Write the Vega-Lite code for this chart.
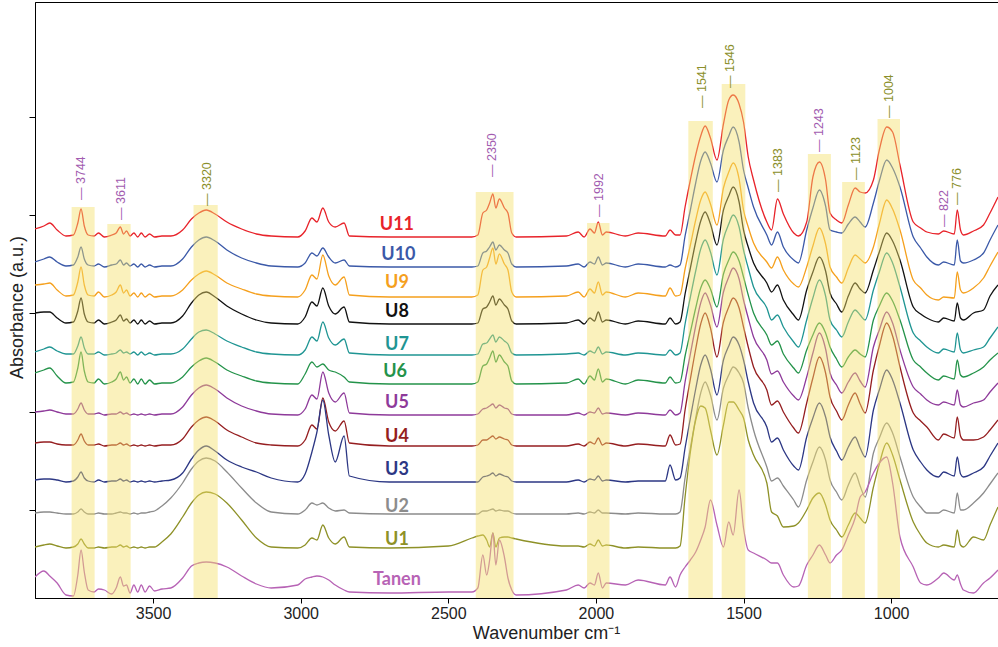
{
"$schema":"https://vega.github.io/schema/vega-lite/v6.json",
"width":963,"height":596,"autosize":"none",
"padding":{"left":35,"top":2,"right":0,"bottom":49},
"background":"white",
"config":{"view":{"stroke":"#000","strokeWidth":1},"font":"Liberation Sans"},
"datasets":{
"spec":[
{"s":"U11","w":3900,"a":3.69},{"s":"U11","w":3870,"a":3.72},{"s":"U11","w":3850,"a":3.75},{"s":"U11","w":3825,"a":3.68},{"s":"U11","w":3795,"a":3.62},{"s":"U11","w":3770,"a":3.63},{"s":"U11","w":3755,"a":3.75},{"s":"U11","w":3744,"a":3.89},{"s":"U11","w":3733,"a":3.72},{"s":"U11","w":3720,"a":3.63},{"s":"U11","w":3700,"a":3.62},{"s":"U11","w":3685,"a":3.65},{"s":"U11","w":3665,"a":3.61},{"s":"U11","w":3640,"a":3.63},{"s":"U11","w":3625,"a":3.65},{"s":"U11","w":3611,"a":3.71},{"s":"U11","w":3600,"a":3.64},{"s":"U11","w":3590,"a":3.67},{"s":"U11","w":3578,"a":3.62},{"s":"U11","w":3565,"a":3.65},{"s":"U11","w":3552,"a":3.61},{"s":"U11","w":3540,"a":3.65},{"s":"U11","w":3527,"a":3.61},{"s":"U11","w":3512,"a":3.64},{"s":"U11","w":3495,"a":3.61},{"s":"U11","w":3470,"a":3.62},{"s":"U11","w":3440,"a":3.62},{"s":"U11","w":3400,"a":3.68},{"s":"U11","w":3370,"a":3.79},{"s":"U11","w":3345,"a":3.85},{"s":"U11","w":3320,"a":3.88},{"s":"U11","w":3290,"a":3.84},{"s":"U11","w":3250,"a":3.76},{"s":"U11","w":3200,"a":3.69},{"s":"U11","w":3150,"a":3.64},{"s":"U11","w":3100,"a":3.62},{"s":"U11","w":3010,"a":3.61},{"s":"U11","w":2985,"a":3.67},{"s":"U11","w":2962,"a":3.80},{"s":"U11","w":2945,"a":3.76},{"s":"U11","w":2925,"a":3.90},{"s":"U11","w":2905,"a":3.76},{"s":"U11","w":2883,"a":3.71},{"s":"U11","w":2853,"a":3.75},{"s":"U11","w":2835,"a":3.62},{"s":"U11","w":2700,"a":3.61},{"s":"U11","w":2500,"a":3.61},{"s":"U11","w":2420,"a":3.61},{"s":"U11","w":2400,"a":3.63},{"s":"U11","w":2383,"a":3.85},{"s":"U11","w":2370,"a":3.88},{"s":"U11","w":2360,"a":3.95},{"s":"U11","w":2349,"a":4.04},{"s":"U11","w":2339,"a":3.90},{"s":"U11","w":2327,"a":3.99},{"s":"U11","w":2310,"a":3.90},{"s":"U11","w":2298,"a":3.85},{"s":"U11","w":2285,"a":3.65},{"s":"U11","w":2270,"a":3.61},{"s":"U11","w":2100,"a":3.62},{"s":"U11","w":2060,"a":3.66},{"s":"U11","w":2040,"a":3.61},{"s":"U11","w":2020,"a":3.69},{"s":"U11","w":2005,"a":3.65},{"s":"U11","w":1992,"a":3.76},{"s":"U11","w":1978,"a":3.63},{"s":"U11","w":1965,"a":3.66},{"s":"U11","w":1900,"a":3.62},{"s":"U11","w":1857,"a":3.65},{"s":"U11","w":1765,"a":3.62},{"s":"U11","w":1749,"a":3.68},{"s":"U11","w":1730,"a":3.63},
{"s":"U11","w":1715,"a":3.63},{"s":"U11","w":1698,"a":3.91},{"s":"U11","w":1680,"a":4.18},{"s":"U11","w":1662,"a":4.43},{"s":"U11","w":1645,"a":4.62},{"s":"U11","w":1630,"a":4.72},{"s":"U11","w":1612,"a":4.60},{"s":"U11","w":1590,"a":4.38},{"s":"U11","w":1568,"a":4.74},{"s":"U11","w":1550,"a":4.98},{"s":"U11","w":1535,"a":5.03},{"s":"U11","w":1515,"a":4.94},{"s":"U11","w":1500,"a":4.76},{"s":"U11","w":1484,"a":4.41},{"s":"U11","w":1466,"a":4.18},{"s":"U11","w":1421,"a":3.76},{"s":"U11","w":1405,"a":3.68},{"s":"U11","w":1385,"a":3.99},{"s":"U11","w":1365,"a":3.84},{"s":"U11","w":1330,"a":3.65},{"s":"U11","w":1314,"a":3.62},{"s":"U11","w":1286,"a":3.76},{"s":"U11","w":1265,"a":4.21},{"s":"U11","w":1243,"a":4.36},{"s":"U11","w":1222,"a":4.18},{"s":"U11","w":1207,"a":3.85},{"s":"U11","w":1185,"a":3.78},{"s":"U11","w":1167,"a":3.75},{"s":"U11","w":1145,"a":3.93},{"s":"U11","w":1122,"a":4.10},{"s":"U11","w":1105,"a":4.06},{"s":"U11","w":1088,"a":4.05},{"s":"U11","w":1060,"a":4.18},{"s":"U11","w":1040,"a":4.48},{"s":"U11","w":1015,"a":4.71},{"s":"U11","w":995,"a":4.66},{"s":"U11","w":970,"a":4.33},{"s":"U11","w":925,"a":3.76},{"s":"U11","w":900,"a":3.70},{"s":"U11","w":879,"a":3.66},{"s":"U11","w":840,"a":3.64},{"s":"U11","w":822,"a":3.67},{"s":"U11","w":786,"a":3.64},{"s":"U11","w":776,"a":3.88},{"s":"U11","w":765,"a":3.68},{"s":"U11","w":755,"a":3.63},{"s":"U11","w":721,"a":3.67},{"s":"U11","w":687,"a":3.73},{"s":"U11","w":665,"a":3.85},{"s":"U11","w":638,"a":4.01},
{"s":"U10","w":3900,"a":3.36},{"s":"U10","w":3870,"a":3.39},{"s":"U10","w":3850,"a":3.41},{"s":"U10","w":3825,"a":3.36},{"s":"U10","w":3795,"a":3.32},{"s":"U10","w":3770,"a":3.33},{"s":"U10","w":3755,"a":3.41},{"s":"U10","w":3744,"a":3.51},{"s":"U10","w":3733,"a":3.39},{"s":"U10","w":3720,"a":3.33},{"s":"U10","w":3700,"a":3.32},{"s":"U10","w":3685,"a":3.34},{"s":"U10","w":3665,"a":3.31},{"s":"U10","w":3640,"a":3.33},{"s":"U10","w":3625,"a":3.34},{"s":"U10","w":3611,"a":3.38},{"s":"U10","w":3600,"a":3.33},{"s":"U10","w":3590,"a":3.35},{"s":"U10","w":3578,"a":3.32},{"s":"U10","w":3565,"a":3.34},{"s":"U10","w":3552,"a":3.31},{"s":"U10","w":3540,"a":3.34},{"s":"U10","w":3527,"a":3.31},{"s":"U10","w":3512,"a":3.33},{"s":"U10","w":3495,"a":3.31},{"s":"U10","w":3470,"a":3.32},{"s":"U10","w":3440,"a":3.32},{"s":"U10","w":3400,"a":3.39},{"s":"U10","w":3370,"a":3.51},{"s":"U10","w":3345,"a":3.58},{"s":"U10","w":3320,"a":3.61},{"s":"U10","w":3290,"a":3.57},{"s":"U10","w":3250,"a":3.48},{"s":"U10","w":3200,"a":3.40},{"s":"U10","w":3150,"a":3.35},{"s":"U10","w":3100,"a":3.32},{"s":"U10","w":3010,"a":3.31},{"s":"U10","w":2985,"a":3.35},{"s":"U10","w":2962,"a":3.45},{"s":"U10","w":2945,"a":3.42},{"s":"U10","w":2925,"a":3.50},{"s":"U10","w":2905,"a":3.41},{"s":"U10","w":2883,"a":3.35},{"s":"U10","w":2853,"a":3.38},{"s":"U10","w":2835,"a":3.32},{"s":"U10","w":2700,"a":3.31},{"s":"U10","w":2500,"a":3.31},{"s":"U10","w":2420,"a":3.31},{"s":"U10","w":2400,"a":3.32},{"s":"U10","w":2383,"a":3.45},{"s":"U10","w":2370,"a":3.47},{"s":"U10","w":2360,"a":3.51},{"s":"U10","w":2349,"a":3.56},{"s":"U10","w":2339,"a":3.48},{"s":"U10","w":2327,"a":3.53},{"s":"U10","w":2310,"a":3.48},{"s":"U10","w":2298,"a":3.45},{"s":"U10","w":2285,"a":3.34},{"s":"U10","w":2270,"a":3.31},{"s":"U10","w":2100,"a":3.32},{"s":"U10","w":2060,"a":3.34},{"s":"U10","w":2040,"a":3.31},{"s":"U10","w":2020,"a":3.36},{"s":"U10","w":2005,"a":3.34},{"s":"U10","w":1992,"a":3.41},{"s":"U10","w":1978,"a":3.33},{"s":"U10","w":1965,"a":3.35},{"s":"U10","w":1900,"a":3.31},{"s":"U10","w":1857,"a":3.34},{"s":"U10","w":1765,"a":3.31},{"s":"U10","w":1749,"a":3.33},{"s":"U10","w":1730,"a":3.31},
{"s":"U10","w":1715,"a":3.33},{"s":"U10","w":1698,"a":3.62},{"s":"U10","w":1680,"a":3.88},{"s":"U10","w":1662,"a":4.15},{"s":"U10","w":1645,"a":4.37},{"s":"U10","w":1630,"a":4.46},{"s":"U10","w":1612,"a":4.35},{"s":"U10","w":1590,"a":4.16},{"s":"U10","w":1568,"a":4.48},{"s":"U10","w":1550,"a":4.62},{"s":"U10","w":1535,"a":4.71},{"s":"U10","w":1515,"a":4.56},{"s":"U10","w":1500,"a":4.28},{"s":"U10","w":1484,"a":4.10},{"s":"U10","w":1466,"a":3.91},{"s":"U10","w":1421,"a":3.63},{"s":"U10","w":1405,"a":3.53},{"s":"U10","w":1385,"a":3.66},{"s":"U10","w":1365,"a":3.51},{"s":"U10","w":1330,"a":3.38},{"s":"U10","w":1314,"a":3.35},{"s":"U10","w":1286,"a":3.68},{"s":"U10","w":1265,"a":3.90},{"s":"U10","w":1243,"a":4.08},{"s":"U10","w":1222,"a":3.92},{"s":"U10","w":1207,"a":3.68},{"s":"U10","w":1185,"a":3.66},{"s":"U10","w":1167,"a":3.65},{"s":"U10","w":1145,"a":3.74},{"s":"U10","w":1122,"a":3.81},{"s":"U10","w":1105,"a":3.76},{"s":"U10","w":1088,"a":3.71},{"s":"U10","w":1060,"a":3.95},{"s":"U10","w":1040,"a":4.17},{"s":"U10","w":1015,"a":4.38},{"s":"U10","w":995,"a":4.30},{"s":"U10","w":970,"a":4.11},{"s":"U10","w":925,"a":3.61},{"s":"U10","w":900,"a":3.50},{"s":"U10","w":879,"a":3.41},{"s":"U10","w":840,"a":3.33},{"s":"U10","w":822,"a":3.36},{"s":"U10","w":786,"a":3.33},{"s":"U10","w":776,"a":3.58},{"s":"U10","w":765,"a":3.37},{"s":"U10","w":755,"a":3.35},{"s":"U10","w":721,"a":3.38},{"s":"U10","w":687,"a":3.45},{"s":"U10","w":665,"a":3.58},{"s":"U10","w":638,"a":3.73},
{"s":"U9","w":3900,"a":3.13},{"s":"U9","w":3870,"a":3.14},{"s":"U9","w":3850,"a":3.15},{"s":"U9","w":3825,"a":3.08},{"s":"U9","w":3795,"a":3.02},{"s":"U9","w":3770,"a":3.03},{"s":"U9","w":3755,"a":3.16},{"s":"U9","w":3744,"a":3.31},{"s":"U9","w":3733,"a":3.13},{"s":"U9","w":3720,"a":3.03},{"s":"U9","w":3700,"a":3.02},{"s":"U9","w":3685,"a":3.06},{"s":"U9","w":3665,"a":3.01},{"s":"U9","w":3640,"a":3.03},{"s":"U9","w":3625,"a":3.06},{"s":"U9","w":3611,"a":3.13},{"s":"U9","w":3600,"a":3.05},{"s":"U9","w":3590,"a":3.08},{"s":"U9","w":3578,"a":3.02},{"s":"U9","w":3565,"a":3.05},{"s":"U9","w":3552,"a":3.01},{"s":"U9","w":3540,"a":3.05},{"s":"U9","w":3527,"a":3.01},{"s":"U9","w":3512,"a":3.04},{"s":"U9","w":3495,"a":3.01},{"s":"U9","w":3470,"a":3.02},{"s":"U9","w":3440,"a":3.02},{"s":"U9","w":3400,"a":3.08},{"s":"U9","w":3370,"a":3.18},{"s":"U9","w":3345,"a":3.24},{"s":"U9","w":3320,"a":3.27},{"s":"U9","w":3290,"a":3.23},{"s":"U9","w":3250,"a":3.15},{"s":"U9","w":3200,"a":3.09},{"s":"U9","w":3150,"a":3.04},{"s":"U9","w":3100,"a":3.02},{"s":"U9","w":3010,"a":3.01},{"s":"U9","w":2985,"a":3.08},{"s":"U9","w":2962,"a":3.23},{"s":"U9","w":2945,"a":3.19},{"s":"U9","w":2925,"a":3.43},{"s":"U9","w":2905,"a":3.22},{"s":"U9","w":2883,"a":3.13},{"s":"U9","w":2853,"a":3.21},{"s":"U9","w":2835,"a":3.03},{"s":"U9","w":2700,"a":3.01},{"s":"U9","w":2500,"a":3.01},{"s":"U9","w":2420,"a":3.01},{"s":"U9","w":2400,"a":3.03},{"s":"U9","w":2383,"a":3.28},{"s":"U9","w":2370,"a":3.31},{"s":"U9","w":2360,"a":3.40},{"s":"U9","w":2349,"a":3.50},{"s":"U9","w":2339,"a":3.34},{"s":"U9","w":2327,"a":3.44},{"s":"U9","w":2310,"a":3.34},{"s":"U9","w":2298,"a":3.28},{"s":"U9","w":2285,"a":3.06},{"s":"U9","w":2270,"a":3.01},{"s":"U9","w":2100,"a":3.02},{"s":"U9","w":2060,"a":3.06},{"s":"U9","w":2040,"a":3.01},{"s":"U9","w":2020,"a":3.09},{"s":"U9","w":2005,"a":3.05},{"s":"U9","w":1992,"a":3.16},{"s":"U9","w":1978,"a":3.03},{"s":"U9","w":1965,"a":3.06},{"s":"U9","w":1900,"a":3.01},{"s":"U9","w":1857,"a":3.05},{"s":"U9","w":1765,"a":3.02},{"s":"U9","w":1749,"a":3.10},{"s":"U9","w":1730,"a":3.02},
{"s":"U9","w":1715,"a":3.03},{"s":"U9","w":1698,"a":3.29},{"s":"U9","w":1680,"a":3.53},{"s":"U9","w":1662,"a":3.78},{"s":"U9","w":1645,"a":3.98},{"s":"U9","w":1630,"a":4.06},{"s":"U9","w":1612,"a":3.94},{"s":"U9","w":1590,"a":3.73},{"s":"U9","w":1568,"a":4.10},{"s":"U9","w":1550,"a":4.26},{"s":"U9","w":1535,"a":4.35},{"s":"U9","w":1515,"a":4.19},{"s":"U9","w":1500,"a":3.88},{"s":"U9","w":1484,"a":3.71},{"s":"U9","w":1466,"a":3.55},{"s":"U9","w":1421,"a":3.36},{"s":"U9","w":1405,"a":3.30},{"s":"U9","w":1385,"a":3.41},{"s":"U9","w":1365,"a":3.28},{"s":"U9","w":1330,"a":3.14},{"s":"U9","w":1314,"a":3.11},{"s":"U9","w":1286,"a":3.31},{"s":"U9","w":1265,"a":3.52},{"s":"U9","w":1243,"a":3.70},{"s":"U9","w":1222,"a":3.54},{"s":"U9","w":1207,"a":3.31},{"s":"U9","w":1185,"a":3.21},{"s":"U9","w":1167,"a":3.15},{"s":"U9","w":1145,"a":3.30},{"s":"U9","w":1122,"a":3.43},{"s":"U9","w":1105,"a":3.39},{"s":"U9","w":1088,"a":3.35},{"s":"U9","w":1060,"a":3.51},{"s":"U9","w":1040,"a":3.74},{"s":"U9","w":1015,"a":3.98},{"s":"U9","w":995,"a":3.89},{"s":"U9","w":970,"a":3.68},{"s":"U9","w":925,"a":3.18},{"s":"U9","w":900,"a":3.10},{"s":"U9","w":879,"a":3.03},{"s":"U9","w":840,"a":2.98},{"s":"U9","w":822,"a":3.01},{"s":"U9","w":786,"a":3.00},{"s":"U9","w":776,"a":3.26},{"s":"U9","w":765,"a":3.08},{"s":"U9","w":755,"a":3.05},{"s":"U9","w":721,"a":3.10},{"s":"U9","w":687,"a":3.20},{"s":"U9","w":665,"a":3.32},{"s":"U9","w":638,"a":3.46},
{"s":"U8","w":3900,"a":2.85},{"s":"U8","w":3870,"a":2.86},{"s":"U8","w":3850,"a":2.86},{"s":"U8","w":3825,"a":2.80},{"s":"U8","w":3795,"a":2.75},{"s":"U8","w":3770,"a":2.76},{"s":"U8","w":3755,"a":2.87},{"s":"U8","w":3744,"a":3.00},{"s":"U8","w":3733,"a":2.84},{"s":"U8","w":3720,"a":2.76},{"s":"U8","w":3700,"a":2.75},{"s":"U8","w":3685,"a":2.78},{"s":"U8","w":3665,"a":2.74},{"s":"U8","w":3640,"a":2.76},{"s":"U8","w":3625,"a":2.78},{"s":"U8","w":3611,"a":2.83},{"s":"U8","w":3600,"a":2.77},{"s":"U8","w":3590,"a":2.79},{"s":"U8","w":3578,"a":2.75},{"s":"U8","w":3565,"a":2.78},{"s":"U8","w":3552,"a":2.74},{"s":"U8","w":3540,"a":2.78},{"s":"U8","w":3527,"a":2.74},{"s":"U8","w":3512,"a":2.77},{"s":"U8","w":3495,"a":2.74},{"s":"U8","w":3470,"a":2.75},{"s":"U8","w":3440,"a":2.75},{"s":"U8","w":3400,"a":2.82},{"s":"U8","w":3370,"a":2.95},{"s":"U8","w":3345,"a":3.03},{"s":"U8","w":3320,"a":3.06},{"s":"U8","w":3290,"a":3.01},{"s":"U8","w":3250,"a":2.92},{"s":"U8","w":3200,"a":2.84},{"s":"U8","w":3150,"a":2.78},{"s":"U8","w":3100,"a":2.75},{"s":"U8","w":3010,"a":2.74},{"s":"U8","w":2985,"a":2.81},{"s":"U8","w":2962,"a":2.96},{"s":"U8","w":2945,"a":2.92},{"s":"U8","w":2925,"a":3.10},{"s":"U8","w":2905,"a":2.92},{"s":"U8","w":2883,"a":2.84},{"s":"U8","w":2853,"a":2.91},{"s":"U8","w":2835,"a":2.76},{"s":"U8","w":2700,"a":2.74},{"s":"U8","w":2500,"a":2.74},{"s":"U8","w":2420,"a":2.74},{"s":"U8","w":2400,"a":2.75},{"s":"U8","w":2383,"a":2.89},{"s":"U8","w":2370,"a":2.91},{"s":"U8","w":2360,"a":2.96},{"s":"U8","w":2349,"a":3.02},{"s":"U8","w":2339,"a":2.93},{"s":"U8","w":2327,"a":2.99},{"s":"U8","w":2310,"a":2.93},{"s":"U8","w":2298,"a":2.89},{"s":"U8","w":2285,"a":2.77},{"s":"U8","w":2270,"a":2.74},{"s":"U8","w":2100,"a":2.75},{"s":"U8","w":2060,"a":2.78},{"s":"U8","w":2040,"a":2.74},{"s":"U8","w":2020,"a":2.80},{"s":"U8","w":2005,"a":2.77},{"s":"U8","w":1992,"a":2.86},{"s":"U8","w":1978,"a":2.76},{"s":"U8","w":1965,"a":2.78},{"s":"U8","w":1900,"a":2.74},{"s":"U8","w":1857,"a":2.77},{"s":"U8","w":1765,"a":2.74},{"s":"U8","w":1749,"a":2.80},{"s":"U8","w":1730,"a":2.74},
{"s":"U8","w":1715,"a":2.76},{"s":"U8","w":1698,"a":3.04},{"s":"U8","w":1680,"a":3.30},{"s":"U8","w":1662,"a":3.56},{"s":"U8","w":1645,"a":3.77},{"s":"U8","w":1630,"a":3.86},{"s":"U8","w":1612,"a":3.74},{"s":"U8","w":1590,"a":3.53},{"s":"U8","w":1568,"a":3.88},{"s":"U8","w":1550,"a":4.02},{"s":"U8","w":1535,"a":4.11},{"s":"U8","w":1515,"a":3.96},{"s":"U8","w":1500,"a":3.68},{"s":"U8","w":1484,"a":3.51},{"s":"U8","w":1466,"a":3.35},{"s":"U8","w":1421,"a":3.15},{"s":"U8","w":1405,"a":3.06},{"s":"U8","w":1385,"a":3.13},{"s":"U8","w":1365,"a":2.98},{"s":"U8","w":1330,"a":2.83},{"s":"U8","w":1314,"a":2.78},{"s":"U8","w":1286,"a":3.08},{"s":"U8","w":1265,"a":3.26},{"s":"U8","w":1243,"a":3.41},{"s":"U8","w":1222,"a":3.27},{"s":"U8","w":1207,"a":3.05},{"s":"U8","w":1185,"a":2.94},{"s":"U8","w":1167,"a":2.86},{"s":"U8","w":1145,"a":3.02},{"s":"U8","w":1122,"a":3.15},{"s":"U8","w":1105,"a":3.09},{"s":"U8","w":1088,"a":3.05},{"s":"U8","w":1060,"a":3.28},{"s":"U8","w":1040,"a":3.46},{"s":"U8","w":1015,"a":3.65},{"s":"U8","w":995,"a":3.57},{"s":"U8","w":970,"a":3.38},{"s":"U8","w":925,"a":2.91},{"s":"U8","w":900,"a":2.84},{"s":"U8","w":879,"a":2.80},{"s":"U8","w":840,"a":2.76},{"s":"U8","w":822,"a":2.80},{"s":"U8","w":786,"a":2.77},{"s":"U8","w":776,"a":2.95},{"s":"U8","w":765,"a":2.80},{"s":"U8","w":755,"a":2.78},{"s":"U8","w":721,"a":2.85},{"s":"U8","w":687,"a":2.88},{"s":"U8","w":665,"a":3.02},{"s":"U8","w":638,"a":3.13},
{"s":"U7","w":3900,"a":2.46},{"s":"U7","w":3870,"a":2.49},{"s":"U7","w":3850,"a":2.51},{"s":"U7","w":3825,"a":2.47},{"s":"U7","w":3795,"a":2.44},{"s":"U7","w":3770,"a":2.44},{"s":"U7","w":3755,"a":2.52},{"s":"U7","w":3744,"a":2.61},{"s":"U7","w":3733,"a":2.50},{"s":"U7","w":3720,"a":2.44},{"s":"U7","w":3700,"a":2.44},{"s":"U7","w":3685,"a":2.46},{"s":"U7","w":3665,"a":2.43},{"s":"U7","w":3640,"a":2.44},{"s":"U7","w":3625,"a":2.45},{"s":"U7","w":3611,"a":2.48},{"s":"U7","w":3600,"a":2.45},{"s":"U7","w":3590,"a":2.46},{"s":"U7","w":3578,"a":2.44},{"s":"U7","w":3565,"a":2.46},{"s":"U7","w":3552,"a":2.43},{"s":"U7","w":3540,"a":2.46},{"s":"U7","w":3527,"a":2.43},{"s":"U7","w":3512,"a":2.45},{"s":"U7","w":3495,"a":2.43},{"s":"U7","w":3470,"a":2.44},{"s":"U7","w":3440,"a":2.44},{"s":"U7","w":3400,"a":2.49},{"s":"U7","w":3370,"a":2.59},{"s":"U7","w":3345,"a":2.66},{"s":"U7","w":3320,"a":2.68},{"s":"U7","w":3290,"a":2.64},{"s":"U7","w":3250,"a":2.57},{"s":"U7","w":3200,"a":2.51},{"s":"U7","w":3150,"a":2.46},{"s":"U7","w":3100,"a":2.44},{"s":"U7","w":3010,"a":2.43},{"s":"U7","w":2985,"a":2.48},{"s":"U7","w":2962,"a":2.61},{"s":"U7","w":2945,"a":2.57},{"s":"U7","w":2925,"a":2.76},{"s":"U7","w":2905,"a":2.60},{"s":"U7","w":2883,"a":2.53},{"s":"U7","w":2853,"a":2.59},{"s":"U7","w":2835,"a":2.45},{"s":"U7","w":2700,"a":2.43},{"s":"U7","w":2500,"a":2.43},{"s":"U7","w":2420,"a":2.43},{"s":"U7","w":2400,"a":2.44},{"s":"U7","w":2383,"a":2.54},{"s":"U7","w":2370,"a":2.55},{"s":"U7","w":2360,"a":2.59},{"s":"U7","w":2349,"a":2.63},{"s":"U7","w":2339,"a":2.56},{"s":"U7","w":2327,"a":2.61},{"s":"U7","w":2310,"a":2.57},{"s":"U7","w":2298,"a":2.54},{"s":"U7","w":2285,"a":2.45},{"s":"U7","w":2270,"a":2.43},{"s":"U7","w":2100,"a":2.44},{"s":"U7","w":2060,"a":2.45},{"s":"U7","w":2040,"a":2.43},{"s":"U7","w":2020,"a":2.47},{"s":"U7","w":2005,"a":2.45},{"s":"U7","w":1992,"a":2.51},{"s":"U7","w":1978,"a":2.44},{"s":"U7","w":1965,"a":2.46},{"s":"U7","w":1900,"a":2.43},{"s":"U7","w":1857,"a":2.45},{"s":"U7","w":1765,"a":2.43},{"s":"U7","w":1749,"a":2.48},{"s":"U7","w":1730,"a":2.43},
{"s":"U7","w":1715,"a":2.45},{"s":"U7","w":1698,"a":2.74},{"s":"U7","w":1680,"a":3.01},{"s":"U7","w":1662,"a":3.27},{"s":"U7","w":1645,"a":3.49},{"s":"U7","w":1630,"a":3.58},{"s":"U7","w":1612,"a":3.46},{"s":"U7","w":1590,"a":3.23},{"s":"U7","w":1568,"a":3.59},{"s":"U7","w":1550,"a":3.74},{"s":"U7","w":1535,"a":3.83},{"s":"U7","w":1515,"a":3.71},{"s":"U7","w":1500,"a":3.48},{"s":"U7","w":1484,"a":3.30},{"s":"U7","w":1466,"a":3.11},{"s":"U7","w":1421,"a":2.90},{"s":"U7","w":1405,"a":2.78},{"s":"U7","w":1385,"a":2.83},{"s":"U7","w":1365,"a":2.71},{"s":"U7","w":1330,"a":2.56},{"s":"U7","w":1314,"a":2.51},{"s":"U7","w":1286,"a":2.78},{"s":"U7","w":1265,"a":3.00},{"s":"U7","w":1243,"a":3.18},{"s":"U7","w":1222,"a":3.02},{"s":"U7","w":1207,"a":2.78},{"s":"U7","w":1185,"a":2.68},{"s":"U7","w":1167,"a":2.61},{"s":"U7","w":1145,"a":2.76},{"s":"U7","w":1122,"a":2.88},{"s":"U7","w":1105,"a":2.83},{"s":"U7","w":1088,"a":2.78},{"s":"U7","w":1060,"a":3.08},{"s":"U7","w":1040,"a":3.26},{"s":"U7","w":1015,"a":3.45},{"s":"U7","w":995,"a":3.35},{"s":"U7","w":970,"a":3.11},{"s":"U7","w":925,"a":2.65},{"s":"U7","w":900,"a":2.57},{"s":"U7","w":879,"a":2.51},{"s":"U7","w":840,"a":2.45},{"s":"U7","w":822,"a":2.49},{"s":"U7","w":786,"a":2.46},{"s":"U7","w":776,"a":2.65},{"s":"U7","w":765,"a":2.48},{"s":"U7","w":755,"a":2.45},{"s":"U7","w":721,"a":2.48},{"s":"U7","w":687,"a":2.51},{"s":"U7","w":665,"a":2.60},{"s":"U7","w":638,"a":2.71},
{"s":"U6","w":3900,"a":2.25},{"s":"U6","w":3870,"a":2.28},{"s":"U6","w":3850,"a":2.30},{"s":"U6","w":3825,"a":2.22},{"s":"U6","w":3795,"a":2.15},{"s":"U6","w":3770,"a":2.16},{"s":"U6","w":3755,"a":2.30},{"s":"U6","w":3744,"a":2.46},{"s":"U6","w":3733,"a":2.27},{"s":"U6","w":3720,"a":2.16},{"s":"U6","w":3700,"a":2.15},{"s":"U6","w":3685,"a":2.19},{"s":"U6","w":3665,"a":2.14},{"s":"U6","w":3640,"a":2.16},{"s":"U6","w":3625,"a":2.19},{"s":"U6","w":3611,"a":2.26},{"s":"U6","w":3600,"a":2.18},{"s":"U6","w":3590,"a":2.21},{"s":"U6","w":3578,"a":2.15},{"s":"U6","w":3565,"a":2.19},{"s":"U6","w":3552,"a":2.14},{"s":"U6","w":3540,"a":2.19},{"s":"U6","w":3527,"a":2.14},{"s":"U6","w":3512,"a":2.18},{"s":"U6","w":3495,"a":2.14},{"s":"U6","w":3470,"a":2.15},{"s":"U6","w":3440,"a":2.15},{"s":"U6","w":3400,"a":2.21},{"s":"U6","w":3370,"a":2.31},{"s":"U6","w":3345,"a":2.37},{"s":"U6","w":3320,"a":2.40},{"s":"U6","w":3290,"a":2.36},{"s":"U6","w":3250,"a":2.28},{"s":"U6","w":3200,"a":2.22},{"s":"U6","w":3150,"a":2.17},{"s":"U6","w":3100,"a":2.15},{"s":"U6","w":3010,"a":2.14},{"s":"U6","w":2985,"a":2.24},{"s":"U6","w":2962,"a":2.36},{"s":"U6","w":2945,"a":2.31},{"s":"U6","w":2925,"a":2.34},{"s":"U6","w":2905,"a":2.28},{"s":"U6","w":2883,"a":2.26},{"s":"U6","w":2853,"a":2.21},{"s":"U6","w":2835,"a":2.16},{"s":"U6","w":2700,"a":2.14},{"s":"U6","w":2500,"a":2.14},{"s":"U6","w":2420,"a":2.14},{"s":"U6","w":2400,"a":2.16},{"s":"U6","w":2383,"a":2.32},{"s":"U6","w":2370,"a":2.34},{"s":"U6","w":2360,"a":2.40},{"s":"U6","w":2349,"a":2.47},{"s":"U6","w":2339,"a":2.36},{"s":"U6","w":2327,"a":2.43},{"s":"U6","w":2310,"a":2.36},{"s":"U6","w":2298,"a":2.32},{"s":"U6","w":2285,"a":2.17},{"s":"U6","w":2270,"a":2.14},{"s":"U6","w":2100,"a":2.15},{"s":"U6","w":2060,"a":2.19},{"s":"U6","w":2040,"a":2.14},{"s":"U6","w":2020,"a":2.22},{"s":"U6","w":2005,"a":2.18},{"s":"U6","w":1992,"a":2.29},{"s":"U6","w":1978,"a":2.16},{"s":"U6","w":1965,"a":2.19},{"s":"U6","w":1900,"a":2.14},{"s":"U6","w":1857,"a":2.18},{"s":"U6","w":1765,"a":2.15},{"s":"U6","w":1749,"a":2.21},{"s":"U6","w":1730,"a":2.15},
{"s":"U6","w":1715,"a":2.16},{"s":"U6","w":1698,"a":2.42},{"s":"U6","w":1680,"a":2.66},{"s":"U6","w":1662,"a":2.90},{"s":"U6","w":1645,"a":3.10},{"s":"U6","w":1630,"a":3.18},{"s":"U6","w":1612,"a":3.09},{"s":"U6","w":1590,"a":2.91},{"s":"U6","w":1568,"a":3.24},{"s":"U6","w":1550,"a":3.38},{"s":"U6","w":1535,"a":3.46},{"s":"U6","w":1515,"a":3.37},{"s":"U6","w":1500,"a":3.21},{"s":"U6","w":1484,"a":3.03},{"s":"U6","w":1466,"a":2.85},{"s":"U6","w":1421,"a":2.63},{"s":"U6","w":1405,"a":2.53},{"s":"U6","w":1385,"a":2.57},{"s":"U6","w":1365,"a":2.44},{"s":"U6","w":1330,"a":2.30},{"s":"U6","w":1314,"a":2.25},{"s":"U6","w":1286,"a":2.48},{"s":"U6","w":1265,"a":2.63},{"s":"U6","w":1243,"a":2.75},{"s":"U6","w":1222,"a":2.65},{"s":"U6","w":1207,"a":2.51},{"s":"U6","w":1185,"a":2.39},{"s":"U6","w":1167,"a":2.31},{"s":"U6","w":1145,"a":2.41},{"s":"U6","w":1122,"a":2.48},{"s":"U6","w":1105,"a":2.44},{"s":"U6","w":1088,"a":2.41},{"s":"U6","w":1060,"a":2.78},{"s":"U6","w":1040,"a":2.92},{"s":"U6","w":1015,"a":3.05},{"s":"U6","w":995,"a":2.97},{"s":"U6","w":970,"a":2.78},{"s":"U6","w":925,"a":2.38},{"s":"U6","w":900,"a":2.31},{"s":"U6","w":879,"a":2.25},{"s":"U6","w":840,"a":2.18},{"s":"U6","w":822,"a":2.22},{"s":"U6","w":786,"a":2.19},{"s":"U6","w":776,"a":2.38},{"s":"U6","w":765,"a":2.23},{"s":"U6","w":755,"a":2.21},{"s":"U6","w":721,"a":2.25},{"s":"U6","w":687,"a":2.31},{"s":"U6","w":665,"a":2.38},{"s":"U6","w":638,"a":2.45},
{"s":"U5","w":3900,"a":1.86},{"s":"U5","w":3870,"a":1.87},{"s":"U5","w":3850,"a":1.88},{"s":"U5","w":3825,"a":1.86},{"s":"U5","w":3795,"a":1.84},{"s":"U5","w":3770,"a":1.84},{"s":"U5","w":3755,"a":1.89},{"s":"U5","w":3744,"a":1.95},{"s":"U5","w":3733,"a":1.88},{"s":"U5","w":3720,"a":1.84},{"s":"U5","w":3700,"a":1.84},{"s":"U5","w":3685,"a":1.85},{"s":"U5","w":3665,"a":1.83},{"s":"U5","w":3640,"a":1.84},{"s":"U5","w":3625,"a":1.84},{"s":"U5","w":3611,"a":1.86},{"s":"U5","w":3600,"a":1.84},{"s":"U5","w":3590,"a":1.85},{"s":"U5","w":3578,"a":1.83},{"s":"U5","w":3565,"a":1.84},{"s":"U5","w":3552,"a":1.83},{"s":"U5","w":3540,"a":1.84},{"s":"U5","w":3527,"a":1.83},{"s":"U5","w":3512,"a":1.84},{"s":"U5","w":3495,"a":1.83},{"s":"U5","w":3470,"a":1.84},{"s":"U5","w":3440,"a":1.84},{"s":"U5","w":3400,"a":1.91},{"s":"U5","w":3370,"a":2.03},{"s":"U5","w":3345,"a":2.10},{"s":"U5","w":3320,"a":2.13},{"s":"U5","w":3290,"a":2.09},{"s":"U5","w":3250,"a":2.00},{"s":"U5","w":3200,"a":1.92},{"s":"U5","w":3150,"a":1.87},{"s":"U5","w":3100,"a":1.84},{"s":"U5","w":3010,"a":1.83},{"s":"U5","w":2985,"a":1.89},{"s":"U5","w":2962,"a":2.03},{"s":"U5","w":2945,"a":1.99},{"s":"U5","w":2925,"a":2.26},{"s":"U5","w":2905,"a":2.05},{"s":"U5","w":2883,"a":1.96},{"s":"U5","w":2853,"a":2.05},{"s":"U5","w":2835,"a":1.85},{"s":"U5","w":2700,"a":1.83},{"s":"U5","w":2500,"a":1.83},{"s":"U5","w":2420,"a":1.83},{"s":"U5","w":2400,"a":1.84},{"s":"U5","w":2383,"a":1.89},{"s":"U5","w":2370,"a":1.90},{"s":"U5","w":2360,"a":1.92},{"s":"U5","w":2349,"a":1.94},{"s":"U5","w":2339,"a":1.90},{"s":"U5","w":2327,"a":1.93},{"s":"U5","w":2310,"a":1.90},{"s":"U5","w":2298,"a":1.89},{"s":"U5","w":2285,"a":1.84},{"s":"U5","w":2270,"a":1.83},{"s":"U5","w":2100,"a":1.83},{"s":"U5","w":2060,"a":1.85},{"s":"U5","w":2040,"a":1.83},{"s":"U5","w":2020,"a":1.86},{"s":"U5","w":2005,"a":1.85},{"s":"U5","w":1992,"a":1.90},{"s":"U5","w":1978,"a":1.84},{"s":"U5","w":1965,"a":1.85},{"s":"U5","w":1900,"a":1.83},{"s":"U5","w":1857,"a":1.85},{"s":"U5","w":1765,"a":1.83},{"s":"U5","w":1749,"a":1.88},{"s":"U5","w":1730,"a":1.83},
{"s":"U5","w":1715,"a":1.85},{"s":"U5","w":1698,"a":2.16},{"s":"U5","w":1680,"a":2.44},{"s":"U5","w":1662,"a":2.72},{"s":"U5","w":1645,"a":2.95},{"s":"U5","w":1630,"a":3.05},{"s":"U5","w":1612,"a":2.93},{"s":"U5","w":1590,"a":2.71},{"s":"U5","w":1568,"a":3.06},{"s":"U5","w":1550,"a":3.21},{"s":"U5","w":1535,"a":3.30},{"s":"U5","w":1515,"a":3.19},{"s":"U5","w":1500,"a":2.98},{"s":"U5","w":1484,"a":2.80},{"s":"U5","w":1466,"a":2.61},{"s":"U5","w":1421,"a":2.38},{"s":"U5","w":1405,"a":2.24},{"s":"U5","w":1385,"a":2.27},{"s":"U5","w":1365,"a":2.16},{"s":"U5","w":1330,"a":2.02},{"s":"U5","w":1314,"a":1.98},{"s":"U5","w":1286,"a":2.21},{"s":"U5","w":1265,"a":2.45},{"s":"U5","w":1243,"a":2.65},{"s":"U5","w":1222,"a":2.49},{"s":"U5","w":1207,"a":2.25},{"s":"U5","w":1185,"a":2.13},{"s":"U5","w":1167,"a":2.05},{"s":"U5","w":1145,"a":2.16},{"s":"U5","w":1122,"a":2.25},{"s":"U5","w":1105,"a":2.17},{"s":"U5","w":1088,"a":2.11},{"s":"U5","w":1060,"a":2.51},{"s":"U5","w":1040,"a":2.68},{"s":"U5","w":1015,"a":2.86},{"s":"U5","w":995,"a":2.75},{"s":"U5","w":970,"a":2.48},{"s":"U5","w":925,"a":2.11},{"s":"U5","w":900,"a":2.04},{"s":"U5","w":879,"a":1.98},{"s":"U5","w":840,"a":1.93},{"s":"U5","w":822,"a":1.96},{"s":"U5","w":786,"a":1.93},{"s":"U5","w":776,"a":2.08},{"s":"U5","w":765,"a":1.93},{"s":"U5","w":755,"a":1.91},{"s":"U5","w":721,"a":1.95},{"s":"U5","w":687,"a":1.98},{"s":"U5","w":665,"a":2.06},{"s":"U5","w":638,"a":2.15},
{"s":"U4","w":3900,"a":1.55},{"s":"U4","w":3870,"a":1.56},{"s":"U4","w":3850,"a":1.56},{"s":"U4","w":3825,"a":1.54},{"s":"U4","w":3795,"a":1.53},{"s":"U4","w":3770,"a":1.53},{"s":"U4","w":3755,"a":1.58},{"s":"U4","w":3744,"a":1.64},{"s":"U4","w":3733,"a":1.57},{"s":"U4","w":3720,"a":1.53},{"s":"U4","w":3700,"a":1.53},{"s":"U4","w":3685,"a":1.54},{"s":"U4","w":3665,"a":1.52},{"s":"U4","w":3640,"a":1.53},{"s":"U4","w":3625,"a":1.53},{"s":"U4","w":3611,"a":1.55},{"s":"U4","w":3600,"a":1.53},{"s":"U4","w":3590,"a":1.54},{"s":"U4","w":3578,"a":1.52},{"s":"U4","w":3565,"a":1.53},{"s":"U4","w":3552,"a":1.52},{"s":"U4","w":3540,"a":1.53},{"s":"U4","w":3527,"a":1.52},{"s":"U4","w":3512,"a":1.53},{"s":"U4","w":3495,"a":1.52},{"s":"U4","w":3470,"a":1.53},{"s":"U4","w":3440,"a":1.53},{"s":"U4","w":3400,"a":1.59},{"s":"U4","w":3370,"a":1.71},{"s":"U4","w":3345,"a":1.78},{"s":"U4","w":3320,"a":1.81},{"s":"U4","w":3290,"a":1.77},{"s":"U4","w":3250,"a":1.68},{"s":"U4","w":3200,"a":1.61},{"s":"U4","w":3150,"a":1.55},{"s":"U4","w":3100,"a":1.53},{"s":"U4","w":3010,"a":1.52},{"s":"U4","w":2985,"a":1.58},{"s":"U4","w":2962,"a":1.73},{"s":"U4","w":2945,"a":1.69},{"s":"U4","w":2925,"a":2.00},{"s":"U4","w":2905,"a":1.76},{"s":"U4","w":2883,"a":1.67},{"s":"U4","w":2853,"a":1.77},{"s":"U4","w":2835,"a":1.55},{"s":"U4","w":2700,"a":1.52},{"s":"U4","w":2500,"a":1.52},{"s":"U4","w":2420,"a":1.52},{"s":"U4","w":2400,"a":1.53},{"s":"U4","w":2383,"a":1.58},{"s":"U4","w":2370,"a":1.58},{"s":"U4","w":2360,"a":1.60},{"s":"U4","w":2349,"a":1.62},{"s":"U4","w":2339,"a":1.59},{"s":"U4","w":2327,"a":1.61},{"s":"U4","w":2310,"a":1.59},{"s":"U4","w":2298,"a":1.58},{"s":"U4","w":2285,"a":1.53},{"s":"U4","w":2270,"a":1.52},{"s":"U4","w":2100,"a":1.52},{"s":"U4","w":2060,"a":1.54},{"s":"U4","w":2040,"a":1.52},{"s":"U4","w":2020,"a":1.56},{"s":"U4","w":2005,"a":1.54},{"s":"U4","w":1992,"a":1.60},{"s":"U4","w":1978,"a":1.53},{"s":"U4","w":1965,"a":1.55},{"s":"U4","w":1900,"a":1.52},{"s":"U4","w":1857,"a":1.54},{"s":"U4","w":1765,"a":1.52},{"s":"U4","w":1749,"a":1.63},{"s":"U4","w":1730,"a":1.53},
{"s":"U4","w":1715,"a":1.54},{"s":"U4","w":1698,"a":1.88},{"s":"U4","w":1680,"a":2.19},{"s":"U4","w":1662,"a":2.49},{"s":"U4","w":1645,"a":2.74},{"s":"U4","w":1630,"a":2.85},{"s":"U4","w":1612,"a":2.70},{"s":"U4","w":1590,"a":2.41},{"s":"U4","w":1568,"a":2.76},{"s":"U4","w":1550,"a":2.91},{"s":"U4","w":1535,"a":3.00},{"s":"U4","w":1515,"a":2.90},{"s":"U4","w":1500,"a":2.71},{"s":"U4","w":1484,"a":2.51},{"s":"U4","w":1466,"a":2.31},{"s":"U4","w":1421,"a":2.08},{"s":"U4","w":1405,"a":1.93},{"s":"U4","w":1385,"a":1.97},{"s":"U4","w":1365,"a":1.86},{"s":"U4","w":1330,"a":1.70},{"s":"U4","w":1314,"a":1.65},{"s":"U4","w":1286,"a":1.95},{"s":"U4","w":1265,"a":2.20},{"s":"U4","w":1243,"a":2.41},{"s":"U4","w":1222,"a":2.25},{"s":"U4","w":1207,"a":2.01},{"s":"U4","w":1185,"a":1.87},{"s":"U4","w":1167,"a":1.78},{"s":"U4","w":1145,"a":1.93},{"s":"U4","w":1122,"a":2.05},{"s":"U4","w":1105,"a":1.94},{"s":"U4","w":1088,"a":1.85},{"s":"U4","w":1060,"a":2.28},{"s":"U4","w":1040,"a":2.52},{"s":"U4","w":1015,"a":2.75},{"s":"U4","w":995,"a":2.62},{"s":"U4","w":970,"a":2.31},{"s":"U4","w":925,"a":1.85},{"s":"U4","w":900,"a":1.77},{"s":"U4","w":879,"a":1.71},{"s":"U4","w":840,"a":1.58},{"s":"U4","w":822,"a":1.64},{"s":"U4","w":786,"a":1.60},{"s":"U4","w":776,"a":1.81},{"s":"U4","w":765,"a":1.62},{"s":"U4","w":755,"a":1.58},{"s":"U4","w":721,"a":1.58},{"s":"U4","w":687,"a":1.61},{"s":"U4","w":665,"a":1.68},{"s":"U4","w":638,"a":1.78},
{"s":"U3","w":3900,"a":1.18},{"s":"U3","w":3870,"a":1.19},{"s":"U3","w":3850,"a":1.19},{"s":"U3","w":3825,"a":1.18},{"s":"U3","w":3795,"a":1.16},{"s":"U3","w":3770,"a":1.17},{"s":"U3","w":3755,"a":1.21},{"s":"U3","w":3744,"a":1.26},{"s":"U3","w":3733,"a":1.20},{"s":"U3","w":3720,"a":1.17},{"s":"U3","w":3700,"a":1.16},{"s":"U3","w":3685,"a":1.18},{"s":"U3","w":3665,"a":1.16},{"s":"U3","w":3640,"a":1.17},{"s":"U3","w":3625,"a":1.17},{"s":"U3","w":3611,"a":1.19},{"s":"U3","w":3600,"a":1.17},{"s":"U3","w":3590,"a":1.18},{"s":"U3","w":3578,"a":1.16},{"s":"U3","w":3565,"a":1.17},{"s":"U3","w":3552,"a":1.16},{"s":"U3","w":3540,"a":1.17},{"s":"U3","w":3527,"a":1.16},{"s":"U3","w":3512,"a":1.17},{"s":"U3","w":3495,"a":1.16},{"s":"U3","w":3470,"a":1.17},{"s":"U3","w":3440,"a":1.18},{"s":"U3","w":3400,"a":1.25},{"s":"U3","w":3370,"a":1.39},{"s":"U3","w":3345,"a":1.48},{"s":"U3","w":3320,"a":1.52},{"s":"U3","w":3290,"a":1.47},{"s":"U3","w":3250,"a":1.38},{"s":"U3","w":3200,"a":1.31},{"s":"U3","w":3150,"a":1.26},{"s":"U3","w":3100,"a":1.20},{"s":"U3","w":3010,"a":1.16},{"s":"U3","w":2985,"a":1.24},{"s":"U3","w":2962,"a":1.46},{"s":"U3","w":2945,"a":1.66},{"s":"U3","w":2925,"a":1.98},{"s":"U3","w":2905,"a":1.63},{"s":"U3","w":2883,"a":1.36},{"s":"U3","w":2853,"a":1.62},{"s":"U3","w":2835,"a":1.22},{"s":"U3","w":2700,"a":1.16},{"s":"U3","w":2500,"a":1.16},{"s":"U3","w":2420,"a":1.16},{"s":"U3","w":2400,"a":1.16},{"s":"U3","w":2383,"a":1.21},{"s":"U3","w":2370,"a":1.22},{"s":"U3","w":2360,"a":1.23},{"s":"U3","w":2349,"a":1.25},{"s":"U3","w":2339,"a":1.22},{"s":"U3","w":2327,"a":1.24},{"s":"U3","w":2310,"a":1.22},{"s":"U3","w":2298,"a":1.21},{"s":"U3","w":2285,"a":1.17},{"s":"U3","w":2270,"a":1.16},{"s":"U3","w":2100,"a":1.16},{"s":"U3","w":2060,"a":1.18},{"s":"U3","w":2040,"a":1.16},{"s":"U3","w":2020,"a":1.19},{"s":"U3","w":2005,"a":1.18},{"s":"U3","w":1992,"a":1.22},{"s":"U3","w":1978,"a":1.17},{"s":"U3","w":1965,"a":1.18},{"s":"U3","w":1900,"a":1.16},{"s":"U3","w":1857,"a":1.17},{"s":"U3","w":1765,"a":1.17},{"s":"U3","w":1749,"a":1.33},{"s":"U3","w":1730,"a":1.18},
{"s":"U3","w":1715,"a":1.20},{"s":"U3","w":1698,"a":1.50},{"s":"U3","w":1680,"a":1.80},{"s":"U3","w":1662,"a":2.09},{"s":"U3","w":1645,"a":2.33},{"s":"U3","w":1630,"a":2.43},{"s":"U3","w":1612,"a":2.29},{"s":"U3","w":1590,"a":2.03},{"s":"U3","w":1568,"a":2.38},{"s":"U3","w":1550,"a":2.52},{"s":"U3","w":1535,"a":2.61},{"s":"U3","w":1515,"a":2.53},{"s":"U3","w":1500,"a":2.38},{"s":"U3","w":1484,"a":2.16},{"s":"U3","w":1466,"a":1.95},{"s":"U3","w":1421,"a":1.71},{"s":"U3","w":1405,"a":1.56},{"s":"U3","w":1385,"a":1.60},{"s":"U3","w":1365,"a":1.48},{"s":"U3","w":1330,"a":1.32},{"s":"U3","w":1314,"a":1.28},{"s":"U3","w":1286,"a":1.61},{"s":"U3","w":1265,"a":1.80},{"s":"U3","w":1243,"a":1.95},{"s":"U3","w":1222,"a":1.81},{"s":"U3","w":1207,"a":1.61},{"s":"U3","w":1185,"a":1.47},{"s":"U3","w":1167,"a":1.38},{"s":"U3","w":1145,"a":1.51},{"s":"U3","w":1122,"a":1.61},{"s":"U3","w":1105,"a":1.50},{"s":"U3","w":1088,"a":1.41},{"s":"U3","w":1060,"a":1.88},{"s":"U3","w":1040,"a":2.08},{"s":"U3","w":1015,"a":2.28},{"s":"U3","w":995,"a":2.18},{"s":"U3","w":970,"a":1.95},{"s":"U3","w":925,"a":1.48},{"s":"U3","w":900,"a":1.36},{"s":"U3","w":879,"a":1.28},{"s":"U3","w":840,"a":1.21},{"s":"U3","w":822,"a":1.26},{"s":"U3","w":786,"a":1.22},{"s":"U3","w":776,"a":1.41},{"s":"U3","w":765,"a":1.24},{"s":"U3","w":755,"a":1.21},{"s":"U3","w":721,"a":1.25},{"s":"U3","w":687,"a":1.31},{"s":"U3","w":665,"a":1.42},{"s":"U3","w":638,"a":1.55},
{"s":"U2","w":3900,"a":0.85},{"s":"U2","w":3870,"a":0.86},{"s":"U2","w":3850,"a":0.86},{"s":"U2","w":3825,"a":0.85},{"s":"U2","w":3795,"a":0.84},{"s":"U2","w":3770,"a":0.84},{"s":"U2","w":3755,"a":0.86},{"s":"U2","w":3744,"a":0.89},{"s":"U2","w":3733,"a":0.86},{"s":"U2","w":3720,"a":0.84},{"s":"U2","w":3700,"a":0.84},{"s":"U2","w":3685,"a":0.85},{"s":"U2","w":3665,"a":0.84},{"s":"U2","w":3640,"a":0.84},{"s":"U2","w":3625,"a":0.85},{"s":"U2","w":3611,"a":0.86},{"s":"U2","w":3600,"a":0.85},{"s":"U2","w":3590,"a":0.85},{"s":"U2","w":3578,"a":0.84},{"s":"U2","w":3565,"a":0.85},{"s":"U2","w":3552,"a":0.84},{"s":"U2","w":3540,"a":0.85},{"s":"U2","w":3527,"a":0.85},{"s":"U2","w":3512,"a":0.86},{"s":"U2","w":3495,"a":0.87},{"s":"U2","w":3470,"a":0.92},{"s":"U2","w":3440,"a":1.00},{"s":"U2","w":3400,"a":1.15},{"s":"U2","w":3370,"a":1.29},{"s":"U2","w":3345,"a":1.37},{"s":"U2","w":3320,"a":1.40},{"s":"U2","w":3290,"a":1.37},{"s":"U2","w":3250,"a":1.26},{"s":"U2","w":3200,"a":1.10},{"s":"U2","w":3150,"a":0.95},{"s":"U2","w":3100,"a":0.86},{"s":"U2","w":3010,"a":0.84},{"s":"U2","w":2985,"a":0.88},{"s":"U2","w":2962,"a":0.95},{"s":"U2","w":2945,"a":0.93},{"s":"U2","w":2925,"a":0.95},{"s":"U2","w":2905,"a":0.90},{"s":"U2","w":2883,"a":0.87},{"s":"U2","w":2853,"a":0.88},{"s":"U2","w":2835,"a":0.85},{"s":"U2","w":2700,"a":0.84},{"s":"U2","w":2500,"a":0.84},{"s":"U2","w":2420,"a":0.84},{"s":"U2","w":2400,"a":0.84},{"s":"U2","w":2383,"a":0.87},{"s":"U2","w":2370,"a":0.87},{"s":"U2","w":2360,"a":0.88},{"s":"U2","w":2349,"a":0.89},{"s":"U2","w":2339,"a":0.87},{"s":"U2","w":2327,"a":0.88},{"s":"U2","w":2310,"a":0.87},{"s":"U2","w":2298,"a":0.87},{"s":"U2","w":2285,"a":0.85},{"s":"U2","w":2270,"a":0.84},{"s":"U2","w":2100,"a":0.84},{"s":"U2","w":2060,"a":0.85},{"s":"U2","w":2040,"a":0.84},{"s":"U2","w":2020,"a":0.86},{"s":"U2","w":2005,"a":0.85},{"s":"U2","w":1992,"a":0.88},{"s":"U2","w":1978,"a":0.85},{"s":"U2","w":1965,"a":0.85},{"s":"U2","w":1900,"a":0.84},{"s":"U2","w":1857,"a":0.85},{"s":"U2","w":1765,"a":0.84},{"s":"U2","w":1749,"a":0.84},{"s":"U2","w":1730,"a":0.84},
{"s":"U2","w":1715,"a":0.86},{"s":"U2","w":1698,"a":1.20},{"s":"U2","w":1680,"a":1.50},{"s":"U2","w":1662,"a":1.80},{"s":"U2","w":1645,"a":2.05},{"s":"U2","w":1630,"a":2.16},{"s":"U2","w":1612,"a":2.03},{"s":"U2","w":1590,"a":1.78},{"s":"U2","w":1568,"a":2.10},{"s":"U2","w":1550,"a":2.23},{"s":"U2","w":1535,"a":2.31},{"s":"U2","w":1515,"a":2.25},{"s":"U2","w":1500,"a":2.15},{"s":"U2","w":1484,"a":1.90},{"s":"U2","w":1466,"a":1.68},{"s":"U2","w":1421,"a":1.31},{"s":"U2","w":1405,"a":1.17},{"s":"U2","w":1385,"a":1.20},{"s":"U2","w":1365,"a":1.12},{"s":"U2","w":1330,"a":0.98},{"s":"U2","w":1314,"a":0.91},{"s":"U2","w":1286,"a":1.18},{"s":"U2","w":1265,"a":1.36},{"s":"U2","w":1243,"a":1.51},{"s":"U2","w":1222,"a":1.38},{"s":"U2","w":1207,"a":1.18},{"s":"U2","w":1185,"a":1.06},{"s":"U2","w":1167,"a":0.98},{"s":"U2","w":1145,"a":1.13},{"s":"U2","w":1122,"a":1.25},{"s":"U2","w":1105,"a":1.12},{"s":"U2","w":1088,"a":1.01},{"s":"U2","w":1060,"a":1.45},{"s":"U2","w":1040,"a":1.60},{"s":"U2","w":1015,"a":1.75},{"s":"U2","w":995,"a":1.65},{"s":"U2","w":970,"a":1.41},{"s":"U2","w":925,"a":1.01},{"s":"U2","w":900,"a":0.91},{"s":"U2","w":879,"a":0.85},{"s":"U2","w":840,"a":0.85},{"s":"U2","w":822,"a":0.88},{"s":"U2","w":786,"a":0.85},{"s":"U2","w":776,"a":1.05},{"s":"U2","w":765,"a":0.88},{"s":"U2","w":755,"a":0.88},{"s":"U2","w":721,"a":0.95},{"s":"U2","w":687,"a":1.05},{"s":"U2","w":665,"a":1.14},{"s":"U2","w":638,"a":1.25},
{"s":"U1","w":3900,"a":0.51},{"s":"U1","w":3870,"a":0.53},{"s":"U1","w":3850,"a":0.54},{"s":"U1","w":3825,"a":0.52},{"s":"U1","w":3795,"a":0.50},{"s":"U1","w":3770,"a":0.51},{"s":"U1","w":3755,"a":0.54},{"s":"U1","w":3744,"a":0.59},{"s":"U1","w":3733,"a":0.54},{"s":"U1","w":3720,"a":0.50},{"s":"U1","w":3700,"a":0.50},{"s":"U1","w":3685,"a":0.51},{"s":"U1","w":3665,"a":0.50},{"s":"U1","w":3640,"a":0.51},{"s":"U1","w":3625,"a":0.51},{"s":"U1","w":3611,"a":0.53},{"s":"U1","w":3600,"a":0.51},{"s":"U1","w":3590,"a":0.52},{"s":"U1","w":3578,"a":0.50},{"s":"U1","w":3565,"a":0.51},{"s":"U1","w":3552,"a":0.50},{"s":"U1","w":3540,"a":0.51},{"s":"U1","w":3527,"a":0.50},{"s":"U1","w":3512,"a":0.51},{"s":"U1","w":3495,"a":0.51},{"s":"U1","w":3470,"a":0.56},{"s":"U1","w":3440,"a":0.64},{"s":"U1","w":3400,"a":0.81},{"s":"U1","w":3370,"a":0.95},{"s":"U1","w":3345,"a":1.03},{"s":"U1","w":3320,"a":1.06},{"s":"U1","w":3290,"a":1.04},{"s":"U1","w":3250,"a":0.95},{"s":"U1","w":3200,"a":0.78},{"s":"U1","w":3150,"a":0.60},{"s":"U1","w":3100,"a":0.51},{"s":"U1","w":3010,"a":0.50},{"s":"U1","w":2985,"a":0.53},{"s":"U1","w":2962,"a":0.60},{"s":"U1","w":2945,"a":0.58},{"s":"U1","w":2925,"a":0.73},{"s":"U1","w":2905,"a":0.60},{"s":"U1","w":2883,"a":0.54},{"s":"U1","w":2853,"a":0.61},{"s":"U1","w":2835,"a":0.51},{"s":"U1","w":2700,"a":0.50},{"s":"U1","w":2500,"a":0.52},{"s":"U1","w":2420,"a":0.60},{"s":"U1","w":2400,"a":0.62},{"s":"U1","w":2383,"a":0.63},{"s":"U1","w":2370,"a":0.58},{"s":"U1","w":2360,"a":0.51},{"s":"U1","w":2349,"a":0.65},{"s":"U1","w":2339,"a":0.51},{"s":"U1","w":2327,"a":0.60},{"s":"U1","w":2310,"a":0.61},{"s":"U1","w":2298,"a":0.61},{"s":"U1","w":2285,"a":0.60},{"s":"U1","w":2270,"a":0.59},{"s":"U1","w":2100,"a":0.52},{"s":"U1","w":2060,"a":0.52},{"s":"U1","w":2040,"a":0.51},{"s":"U1","w":2020,"a":0.54},{"s":"U1","w":2005,"a":0.52},{"s":"U1","w":1992,"a":0.58},{"s":"U1","w":1978,"a":0.52},{"s":"U1","w":1965,"a":0.53},{"s":"U1","w":1900,"a":0.50},{"s":"U1","w":1857,"a":0.51},{"s":"U1","w":1765,"a":0.50},{"s":"U1","w":1749,"a":0.50},{"s":"U1","w":1730,"a":0.50},
{"s":"U1","w":1715,"a":0.52},{"s":"U1","w":1698,"a":1.01},{"s":"U1","w":1680,"a":1.46},{"s":"U1","w":1662,"a":1.78},{"s":"U1","w":1645,"a":1.92},{"s":"U1","w":1630,"a":1.90},{"s":"U1","w":1612,"a":1.68},{"s":"U1","w":1590,"a":1.43},{"s":"U1","w":1568,"a":1.73},{"s":"U1","w":1550,"a":1.96},{"s":"U1","w":1535,"a":1.96},{"s":"U1","w":1515,"a":1.88},{"s":"U1","w":1500,"a":1.80},{"s":"U1","w":1484,"a":1.58},{"s":"U1","w":1466,"a":1.43},{"s":"U1","w":1421,"a":1.15},{"s":"U1","w":1405,"a":0.86},{"s":"U1","w":1385,"a":0.82},{"s":"U1","w":1365,"a":0.71},{"s":"U1","w":1330,"a":0.72},{"s":"U1","w":1314,"a":0.75},{"s":"U1","w":1286,"a":0.88},{"s":"U1","w":1265,"a":1.00},{"s":"U1","w":1243,"a":1.05},{"s":"U1","w":1222,"a":0.93},{"s":"U1","w":1207,"a":0.78},{"s":"U1","w":1185,"a":0.68},{"s":"U1","w":1167,"a":0.61},{"s":"U1","w":1145,"a":0.73},{"s":"U1","w":1122,"a":0.85},{"s":"U1","w":1105,"a":0.80},{"s":"U1","w":1088,"a":0.75},{"s":"U1","w":1060,"a":1.11},{"s":"U1","w":1040,"a":1.34},{"s":"U1","w":1015,"a":1.55},{"s":"U1","w":995,"a":1.43},{"s":"U1","w":970,"a":1.18},{"s":"U1","w":925,"a":0.76},{"s":"U1","w":900,"a":0.63},{"s":"U1","w":879,"a":0.55},{"s":"U1","w":840,"a":0.51},{"s":"U1","w":822,"a":0.53},{"s":"U1","w":786,"a":0.51},{"s":"U1","w":776,"a":0.68},{"s":"U1","w":765,"a":0.53},{"s":"U1","w":755,"a":0.51},{"s":"U1","w":721,"a":0.61},{"s":"U1","w":687,"a":0.58},{"s":"U1","w":665,"a":0.73},{"s":"U1","w":638,"a":0.91},
{"s":"Tanen","w":3900,"a":0.21},{"s":"Tanen","w":3870,"a":0.27},{"s":"Tanen","w":3850,"a":0.22},{"s":"Tanen","w":3825,"a":0.15},{"s":"Tanen","w":3795,"a":0.03},{"s":"Tanen","w":3770,"a":0.02},{"s":"Tanen","w":3755,"a":0.23},{"s":"Tanen","w":3744,"a":0.48},{"s":"Tanen","w":3733,"a":0.26},{"s":"Tanen","w":3720,"a":0.08},{"s":"Tanen","w":3700,"a":0.06},{"s":"Tanen","w":3685,"a":0.09},{"s":"Tanen","w":3665,"a":0.08},{"s":"Tanen","w":3640,"a":0.04},{"s":"Tanen","w":3625,"a":0.10},{"s":"Tanen","w":3611,"a":0.21},{"s":"Tanen","w":3600,"a":0.12},{"s":"Tanen","w":3590,"a":0.13},{"s":"Tanen","w":3578,"a":0.05},{"s":"Tanen","w":3565,"a":0.13},{"s":"Tanen","w":3552,"a":0.06},{"s":"Tanen","w":3540,"a":0.13},{"s":"Tanen","w":3527,"a":0.06},{"s":"Tanen","w":3512,"a":0.12},{"s":"Tanen","w":3495,"a":0.07},{"s":"Tanen","w":3470,"a":0.09},{"s":"Tanen","w":3440,"a":0.10},{"s":"Tanen","w":3400,"a":0.20},{"s":"Tanen","w":3370,"a":0.32},{"s":"Tanen","w":3345,"a":0.35},{"s":"Tanen","w":3320,"a":0.36},{"s":"Tanen","w":3290,"a":0.35},{"s":"Tanen","w":3250,"a":0.31},{"s":"Tanen","w":3200,"a":0.22},{"s":"Tanen","w":3150,"a":0.14},{"s":"Tanen","w":3100,"a":0.10},{"s":"Tanen","w":3010,"a":0.13},{"s":"Tanen","w":2985,"a":0.19},{"s":"Tanen","w":2962,"a":0.21},{"s":"Tanen","w":2945,"a":0.22},{"s":"Tanen","w":2925,"a":0.21},{"s":"Tanen","w":2905,"a":0.18},{"s":"Tanen","w":2883,"a":0.13},{"s":"Tanen","w":2853,"a":0.08},{"s":"Tanen","w":2835,"a":0.06},{"s":"Tanen","w":2700,"a":0.05},{"s":"Tanen","w":2500,"a":0.06},{"s":"Tanen","w":2420,"a":0.06},{"s":"Tanen","w":2400,"a":0.10},{"s":"Tanen","w":2383,"a":0.43},{"s":"Tanen","w":2370,"a":0.23},{"s":"Tanen","w":2360,"a":0.38},{"s":"Tanen","w":2349,"a":0.65},{"s":"Tanen","w":2339,"a":0.33},{"s":"Tanen","w":2327,"a":0.58},{"s":"Tanen","w":2310,"a":0.41},{"s":"Tanen","w":2298,"a":0.20},{"s":"Tanen","w":2285,"a":0.08},{"s":"Tanen","w":2270,"a":0.03},{"s":"Tanen","w":2100,"a":0.08},{"s":"Tanen","w":2060,"a":0.13},{"s":"Tanen","w":2040,"a":0.10},{"s":"Tanen","w":2020,"a":0.15},{"s":"Tanen","w":2005,"a":0.13},{"s":"Tanen","w":1992,"a":0.25},{"s":"Tanen","w":1978,"a":0.10},{"s":"Tanen","w":1965,"a":0.15},{"s":"Tanen","w":1900,"a":0.13},{"s":"Tanen","w":1857,"a":0.18},{"s":"Tanen","w":1765,"a":0.13},{"s":"Tanen","w":1749,"a":0.21},{"s":"Tanen","w":1730,"a":0.11},
{"s":"Tanen","w":1715,"a":0.23},{"s":"Tanen","w":1698,"a":0.31},{"s":"Tanen","w":1680,"a":0.38},{"s":"Tanen","w":1662,"a":0.46},{"s":"Tanen","w":1645,"a":0.58},{"s":"Tanen","w":1630,"a":0.71},{"s":"Tanen","w":1612,"a":0.98},{"s":"Tanen","w":1590,"a":0.73},{"s":"Tanen","w":1568,"a":0.51},{"s":"Tanen","w":1550,"a":0.76},{"s":"Tanen","w":1535,"a":0.63},{"s":"Tanen","w":1515,"a":1.08},{"s":"Tanen","w":1500,"a":0.70},{"s":"Tanen","w":1484,"a":0.48},{"s":"Tanen","w":1466,"a":0.45},{"s":"Tanen","w":1421,"a":0.38},{"s":"Tanen","w":1405,"a":0.35},{"s":"Tanen","w":1385,"a":0.35},{"s":"Tanen","w":1365,"a":0.23},{"s":"Tanen","w":1330,"a":0.11},{"s":"Tanen","w":1314,"a":0.12},{"s":"Tanen","w":1286,"a":0.33},{"s":"Tanen","w":1265,"a":0.43},{"s":"Tanen","w":1243,"a":0.53},{"s":"Tanen","w":1222,"a":0.43},{"s":"Tanen","w":1207,"a":0.35},{"s":"Tanen","w":1185,"a":0.43},{"s":"Tanen","w":1167,"a":0.48},{"s":"Tanen","w":1145,"a":0.63},{"s":"Tanen","w":1122,"a":0.80},{"s":"Tanen","w":1105,"a":1.01},{"s":"Tanen","w":1088,"a":1.06},{"s":"Tanen","w":1060,"a":1.25},{"s":"Tanen","w":1040,"a":1.35},{"s":"Tanen","w":1015,"a":1.41},{"s":"Tanen","w":995,"a":1.15},{"s":"Tanen","w":970,"a":0.61},{"s":"Tanen","w":925,"a":0.31},{"s":"Tanen","w":900,"a":0.15},{"s":"Tanen","w":879,"a":0.13},{"s":"Tanen","w":840,"a":0.20},{"s":"Tanen","w":822,"a":0.25},{"s":"Tanen","w":786,"a":0.18},{"s":"Tanen","w":776,"a":0.23},{"s":"Tanen","w":765,"a":0.14},{"s":"Tanen","w":755,"a":0.08},{"s":"Tanen","w":721,"a":0.05},{"s":"Tanen","w":687,"a":0.15},{"s":"Tanen","w":665,"a":0.20},{"s":"Tanen","w":638,"a":0.28}
],
"bands":[
{"w1":3776,"w2":3698,"t":3.91},{"w1":3655,"w2":3576,"t":3.74},{"w1":3363,"w2":3281,"t":3.93},{"w1":2407,"w2":2279,"t":4.06},{"w1":2030,"w2":1954,"t":3.75},{"w1":1687,"w2":1604,"t":4.77},{"w1":1574,"w2":1494,"t":5.14},{"w1":1282,"w2":1204,"t":4.44},{"w1":1166,"w2":1089,"t":4.16},{"w1":1046,"w2":970,"t":4.79}
],
"notes":[
{"label":"— 3744","w":3744,"a":3.98,"g":"p"},{"label":"— 3611","w":3609,"a":3.78,"g":"p"},{"label":"— 3320","w":3318,"a":3.92,"g":"o"},{"label":"— 2350","w":2352,"a":4.21,"g":"p"},{"label":"— 1992","w":1989,"a":3.81,"g":"p"},{"label":"— 1541","w":1641,"a":4.90,"g":"o"},{"label":"— 1546","w":1545,"a":5.10,"g":"o"},{"label":"— 1383","w":1383,"a":4.06,"g":"o"},{"label":"— 1243","w":1243,"a":4.46,"g":"p"},{"label":"— 1123","w":1120,"a":4.18,"g":"o"},{"label":"— 1004","w":1006,"a":4.80,"g":"o"},{"label":"— 822","w":822,"a":3.71,"g":"p"},{"label":"— 776","w":776,"a":3.93,"g":"o"}
],
"names":[
{"s":"U11","w":2674,"a":3.73},{"s":"U10","w":2669,"a":3.43},{"s":"U9","w":2674,"a":3.15},{"s":"U8","w":2674,"a":2.86},{"s":"U7","w":2674,"a":2.53},{"s":"U6","w":2680,"a":2.26},{"s":"U5","w":2674,"a":1.95},{"s":"U4","w":2674,"a":1.61},{"s":"U3","w":2674,"a":1.28},{"s":"U2","w":2674,"a":0.91},{"s":"U1","w":2674,"a":0.58},{"s":"Tanen","w":2674,"a":0.18}
]
},
"layer":[
{"data":{"name":"spec"},"mark":{"type":"line","strokeWidth":1.3,"interpolate":"monotone","clip":true},
"encoding":{
"x":{"field":"w","type":"quantitative","scale":{"domain":[3900,638],"nice":false,"zero":false},
"axis":{"values":[3500,3000,2500,2000,1500,1000],"format":"d","title":"Wavenumber cm⁻¹","grid":false,"domainColor":"#000","tickColor":"#000","tickSize":5,"labelFontSize":16,"labelColor":"#222","labelFont":"Liberation Sans","labelPadding":2,"titleFont":"Liberation Sans","titleFontSize":18,"titleFontWeight":"normal","titleColor":"#222","titlePadding":3,"titleX":511,"titleAlign":"center"}},
"y":{"field":"a","type":"quantitative","scale":{"domain":[0,5.96],"nice":false,"zero":false},
"axis":{"values":[0.88,1.86,2.85,3.83,4.81],"labels":false,"title":"Absorbance (a.u.)","grid":false,"domainColor":"#000","tickColor":"#000","tickSize":6,"titleFont":"Liberation Sans","titleFontSize":18,"titleFontWeight":"normal","titleColor":"#222","titlePadding":2,"titleY":305}},
"color":{"field":"s","type":"nominal","legend":null,"scale":{"domain":["U11","U10","U9","U8","U7","U6","U5","U4","U3","U2","U1","Tanen"],"range":["#e8232a","#3b59a8","#f5a01d","#111111","#1f9593","#24934a","#8e3a9a","#951e20","#2c3784","#8c8c8c","#8e9127","#b763b5"]}},
"detail":{"field":"s"}}},
{"data":{"name":"bands"},"mark":{"type":"rect","color":"#f5e06a","opacity":0.45},
"encoding":{"x":{"field":"w1","type":"quantitative"},"x2":{"field":"w2"},"y":{"field":"t","type":"quantitative"},"y2":{"datum":0}}},
{"data":{"name":"notes"},"mark":{"type":"text","angle":270,"align":"left","baseline":"middle","fontSize":12.5,"font":"Liberation Sans"},
"encoding":{"x":{"field":"w","type":"quantitative"},"y":{"field":"a","type":"quantitative"},"text":{"field":"label"},
"color":{"condition":{"test":"datum.g === 'p'","value":"#a25cb0"},"value":"#8b8f2b"}}},
{"data":{"name":"names"},"mark":{"type":"text","align":"center","baseline":"middle","fontSize":18,"fontWeight":"bold","font":"Lato"},
"encoding":{"x":{"field":"w","type":"quantitative"},"y":{"field":"a","type":"quantitative"},"text":{"field":"s"},
"color":{"field":"s","type":"nominal","legend":null}}}
]
}
